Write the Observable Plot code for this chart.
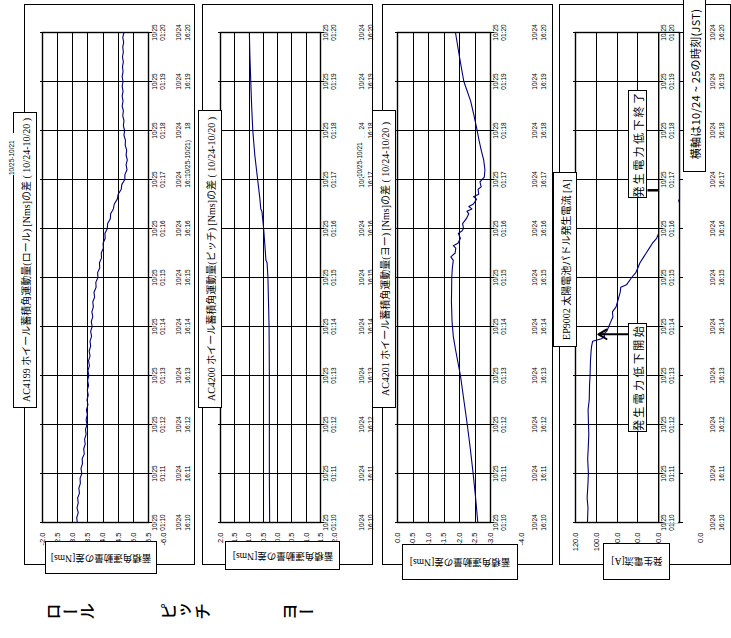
<!DOCTYPE html>
<html><head><meta charset="utf-8">
<script src="https://cdn.jsdelivr.net/npm/d3@7"></script>
<script src="https://cdn.jsdelivr.net/npm/@observablehq/plot@0.6"></script>
<style>
html,body{margin:0;padding:0;background:#fff;}
body{width:731px;height:638px;overflow:hidden;position:relative;}
#rot{position:absolute;left:0;top:0;width:638px;height:731px;transform-origin:0 0;transform:translate(0px,638px) rotate(-90deg);font-family:"Liberation Sans","Noto Sans CJK JP",sans-serif;}
.abs{position:absolute;box-sizing:border-box;}
.frame{border:1.5px solid #000;}
.wbox{background:#fff;border:1px solid #000;display:flex;align-items:center;justify-content:center;white-space:nowrap;overflow:hidden;}
.title{font-family:"Liberation Serif","Noto Sans CJK JP",serif;font-size:10px;}
.ylab span{flex-shrink:0;display:block;white-space:nowrap;transform:rotate(-90deg);font-family:"Liberation Serif","Noto Sans CJK JP",serif;font-size:9.5px;line-height:12px;}
.note{font-family:"Noto Sans CJK JP",sans-serif;font-size:11px;letter-spacing:2.4px;}
.stray{background:#fff;font-size:6.5px;line-height:8px;white-space:nowrap;}
.axname{writing-mode:vertical-rl;font-family:"Noto Sans CJK JP",sans-serif;font-size:17px;font-weight:500;line-height:24px;}
svg{position:absolute;left:0;}
</style></head>
<body><div id="rot"></div>
<script>
// ---- time axis (minutes after 16:10 on 10/24, i.e. 01:10 on 10/25) ----
const minutes = [0,1,2,3,4,5,6,7,8,9,10];
const dateA = "10/25", dateB = "10/24";
const clockA = ["01:10","01:11","01:12","01:13","01:14","01:15","01:16","01:17","01:18","01:19","01:20"];
const clockB = ["16:10","16:11","16:12","16:13","16:14","16:15","16:16","16:17","16:18","16:19","16:20"];

// ---- Roll ----
const rollT = [0,0.1,0.2,0.3,0.4,0.5,0.6,0.7,0.8,0.9,1,1.1,1.2,1.3,1.4,1.5,1.6,1.7,1.8,1.9,2,2.1,2.2,2.3,2.4,2.5,2.6,2.7,2.8,2.9,3,3.1,3.2,3.3,3.4,3.5,3.6,3.7,3.8,3.9,4,4.1,4.2,4.3,4.4,4.5,4.6,4.7,4.8,4.9,5,5.1,5.2,5.3,5.4,5.5,5.6,5.7,5.8,5.9,6,6.1,6.2,6.3,6.4,6.5,6.6,6.7,6.8,6.9,7,7.1,7.2,7.3,7.4,7.5,7.6,7.7,7.8,7.9,8,8.1,8.2,8.3,8.4,8.5,8.6,8.7,8.8,8.9,9,9.1,9.2,9.3,9.4,9.5,9.6,9.7,9.8,9.9,10];
const rollV = [-3.15,-3.13,-3.18,-3.14,-3.18,-3.16,-3.22,-3.20,-3.25,-3.24,-3.30,-3.27,-3.32,-3.31,-3.38,-3.36,-3.41,-3.39,-3.44,-3.42,-3.47,-3.44,-3.48,-3.45,-3.50,-3.47,-3.51,-3.48,-3.52,-3.49,-3.53,-3.50,-3.55,-3.52,-3.57,-3.54,-3.59,-3.57,-3.62,-3.59,-3.64,-3.61,-3.66,-3.63,-3.68,-3.66,-3.72,-3.70,-3.77,-3.76,-3.83,-3.82,-3.89,-3.88,-3.95,-3.94,-4.01,-4.00,-4.07,-4.06,-4.14,-4.15,-4.24,-4.25,-4.34,-4.37,-4.47,-4.50,-4.60,-4.62,-4.72,-4.72,-4.79,-4.76,-4.80,-4.76,-4.78,-4.73,-4.74,-4.69,-4.71,-4.67,-4.69,-4.65,-4.67,-4.63,-4.66,-4.63,-4.66,-4.63,-4.66,-4.63,-4.66,-4.64,-4.67,-4.64,-4.67,-4.65,-4.68,-4.65,-4.69];
const rollGrid = [-2.0,-2.5,-3.0,-3.5,-4.0,-4.5,-5.0,-5.5];
const rollTicks = [-2.0,-2.5,-3.0,-3.5,-4.0,-4.5,-5.0,-5.5,-6.0];

// ---- Pitch ----
const pitchT = [0,1,2,3,4,4.5,5,5.3,5.35,5.6,6,6.35,6.4,6.6,7,7.5,8,8.5,9,9.5,10];
const pitchV = [0.28,0.29,0.29,0.29,0.30,0.32,0.34,0.37,0.41,0.44,0.49,0.55,0.59,0.62,0.70,0.80,0.87,0.91,0.94,0.97,0.99];
const pitchGrid = [2.0,1.5,1.0,0.5,0.0,-0.5,-1.0,-1.5];
const pitchTicks = [2.0,1.5,1.0,0.5,0.0,-0.5,-1.0,-1.5,-2.0];

// ---- Yaw ----
const yawT = [0,0.5,1,1.5,2,2.5,3,3.5,3.8,4.1,4.5,5,5.2,5.35,5.42,5.5,5.6,5.65,5.7,5.8,5.9,5.95,6,6.1,6.2,6.3,6.35,6.4,6.45,6.5,6.6,6.65,6.7,6.8,6.85,6.95,7.05,7.2,7.4,7.6,7.8,8,8.3,8.6,9,9.5,10];
const yawV = [-2.59,-2.52,-2.44,-2.35,-2.25,-2.14,-2.03,-1.88,-1.80,-1.76,-1.74,-1.75,-1.77,-1.80,-1.72,-1.86,-1.88,-1.80,-1.95,-2.03,-1.96,-2.08,-2.13,-2.10,-2.22,-2.30,-2.24,-2.40,-2.30,-2.45,-2.55,-2.45,-2.62,-2.60,-2.70,-2.66,-2.80,-2.82,-2.78,-2.70,-2.63,-2.57,-2.47,-2.36,-2.14,-2.00,-1.87];
const yawGrid = [0.0,-0.5,-1.0,-1.5,-2.0,-2.5,-3.0];
const yawTicks = [0.0,-0.5,-1.0,-1.5,-2.0,-2.5,-3.0,-4.0];

// ---- Solar paddle current ----
const powerT = [0,0.3,0.5,0.8,1,1.3,1.5,1.8,2,2.3,2.5,2.8,3,3.3,3.5,3.6,3.7,3.75,3.8,3.85,3.9,4,4.1,4.2,4.3,4.4,4.55,4.7,4.8,4.85,5,5.1,5.2,5.3,5.4,5.5,5.6,5.7,5.8,5.9,6.2,6.6,8,10];
const powerV = [108.5,108,108.8,108,107.6,108.3,107.8,107.2,107.5,107.9,106.8,106.5,106,105.6,105,104.5,103.5,95,92,93,90,88,86,84,84.5,81,79,77,76.5,71,66,62,60,58,55,52,49,46,42,40,30,20,20,20];
const powerGrid = [120,100,80,60,40];
const powerTicks = [120,100,80,60,40,0];
// annotation anchors (time in minutes, current in A)
const dropStart = {t: 3.84, from: 69, to: 98};
const dropEnd = {t: 6.78, from: 50.8, to: 40};

// ---- texts ----
const titles = [
  "AC4199 ホイール蓄積角運動量(ロール) [Nms]の差 ( 10/24-10/20 )",
  "AC4200 ホイール蓄積角運動量(ピッチ) [Nms]の差 ( 10/24-10/20 )",
  "AC4201 ホイール蓄積角運動量(ヨー) [Nms]の差 ( 10/24-10/20 )",
  "EP9002 太陽電池パドル発生電流 [A]"
];
const yLabels = ["蓄積角運動量の差[Nms]","蓄積角運動量の差[Nms]","蓄積角運動量の差[Nms]","発生電流[A]"];
const axisNames = ["ロール","ピッチ","ヨー"];
const noteEnd = "発生電力低下終了", noteStart = "発生電力低下開始";
const caption = "横軸は10/24 ~ 25の時刻(JST)";
const strayText = "10/25-10/21";

const rot = document.getElementById("rot");
function div(cls, u1, u2, v1, v2, html){
  const d = document.createElement("div");
  d.className = "abs " + cls;
  d.style.left = u1 + "px"; d.style.top = v1 + "px";
  d.style.width = (u2-u1) + "px"; d.style.height = (v2-v1) + "px";
  if (html != null) d.innerHTML = html;
  rot.appendChild(d);
  return d;
}

// outer frames
[[24,195],[202,373],[382,553],[559,731]].forEach(([v1,v2]) => div("frame",73,634,v1,v2));

function panel(cfg){
  const data = cfg.T.map((t,i)=>({t, v: cfg.V[i]}));
  const marks = [
    Plot.gridY(cfg.grid, {stroke:"#000", strokeOpacity:1, strokeWidth:1, shapeRendering:"crispEdges"}),
    cfg.rules || Plot.ruleX(minutes, {x:d=>d, stroke:"#000", strokeWidth:1, shapeRendering:"crispEdges"}),
    Plot.axisX({ticks: minutes, anchor:"bottom", tickSize:4, tickFormat:()=>"", label:null}),
    Plot.axisX({ticks: minutes, anchor:"top", tickSize:3, tickFormat:()=>"", label:null}),
    Plot.frame({stroke:"#000", strokeWidth:1.4}),
    Plot.line(data, {x:"t", y:"v", stroke:"#00007a", strokeWidth:1.1}),
    ...(cfg.extra || []),
    Plot.text(cfg.ticks, {y:d=>d, frameAnchor:"left", textAnchor:"end", dx:-10, text:d=>d.toFixed(1), fontSize:7.5}),
    Plot.text(minutes, {x:d=>d, frameAnchor:"bottom", lineAnchor:"top", dy:cfg.row1, text:i=>dateA+"\n"+clockA[i], fontSize:6.5, lineHeight:1.25}),
    Plot.text(minutes, {x:d=>d, frameAnchor:"bottom", lineAnchor:"top", dy:cfg.row2, text:i=>dateB+"\n"+clockB[i], fontSize:6.5, lineHeight:1.4})
  ];
  const svg = Plot.plot({
    width: 638, height: cfg.H,
    marginLeft: 115, marginRight: 33, marginTop: cfg.mt, marginBottom: cfg.mb,
    x: {domain:[0,10], axis:null},
    y: {domain: cfg.domain, axis:null},
    style: {background:"none", overflow:"visible", maxWidth:"none", fontFamily:"Liberation Sans, Noto Sans CJK JP, sans-serif", color:"#000"},
    marks
  });
  svg.style.top = cfg.top + "px";
  rot.appendChild(svg);
}

panel({T:rollT, V:rollV, grid:rollGrid, ticks:rollTicks, domain:[-5.5,-2.0], top:0, H:200, mt:42, mb:52, row1:3, row2:26});
panel({T:pitchT, V:pitchV, grid:pitchGrid, ticks:pitchTicks, domain:[-1.5,2.0], top:200, H:180, mt:20, mb:60, row1:2, row2:37});
panel({T:yawT, V:yawV, grid:yawGrid, ticks:yawTicks, domain:[-3.0,0.0], top:378, H:180, mt:19, mb:68, row1:2, row2:40});
panel({T:powerT, V:powerV, grid:powerGrid, ticks:powerTicks, domain:[20,120], top:553, H:178, mt:22, mb:52, row1:-19, row2:29,
  rules: Plot.ruleX(minutes, {x:d=>d, y1:()=>40, y2:()=>120, stroke:"#000", strokeWidth:1, shapeRendering:"crispEdges"}),
  extra: [
    Plot.rect([0], {x1:()=>0, x2:()=>10, y1:()=>20.8, y2:()=>39.4, fill:"#fff"}),
    Plot.ruleX(minutes, {x:d=>d, y1:()=>40, y2:()=>35.3, stroke:"#000", strokeWidth:1}),
    Plot.ruleY([40], {stroke:"#000", strokeWidth:1.4}),
    Plot.arrow([dropStart], {x1:"t", x2:"t", y1:"from", y2:"to", stroke:"#000", strokeWidth:2, headLength:7}),
    Plot.link([dropEnd], {x1:"t", x2:"t", y1:"from", y2:"to", stroke:"#000", strokeWidth:2.5})
  ]});

// title boxes
[[230,526,13,37],[230,528,198,222],[230,528,372,396],[291,466,553,577]].forEach(([u1,u2,v1,v2],i) =>
  div("wbox title",u1,u2,v1,v2,titles[i]));
// y-axis label boxes
[[64,97,45,157],[68,97,225,340],[58,94,402,518],[58,95,603,670]].forEach(([u1,u2,v1,v2],i) =>
  div("wbox ylab",u1,u2,v1,v2,"<span>"+yLabels[i]+"</span>"));
// annotations
div("wbox note",440,548,628,647,noteEnd);
div("wbox note",206,315,628,647,noteStart);
div("wbox note",466,642,683,706,caption).style.letterSpacing = "0.3px";
// leftover overlapping labels
div("stray",463,505,8,16,strayText);
div("stray",461,508,184,192,strayText+")");
div("stray",461,508,356,364,strayText);
// axis names (vertical writing)
[45,160,281].forEach((v,i)=>{ const d = div("axname",12,38,v,v+56,axisNames[i]); d.style.height="auto"; });
</script>
</body></html>
